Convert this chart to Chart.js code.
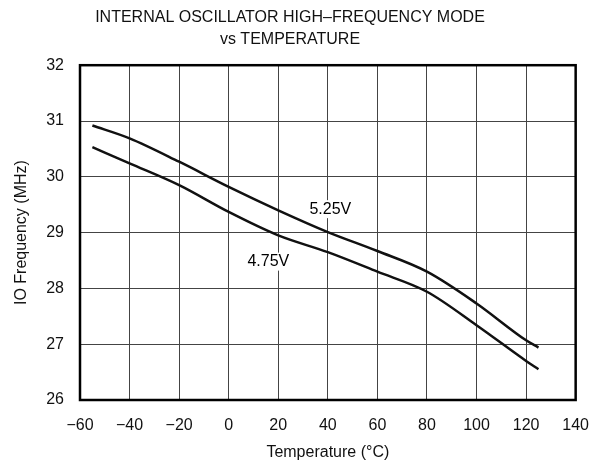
<!DOCTYPE html>
<html>
<head>
<meta charset="utf-8">
<script src="https://cdn.jsdelivr.net/npm/chart.js@4"></script>
<style>
  body { margin: 0; background: #fff; }
</style>
</head>
<body>
<canvas id="chart" width="605" height="467"></canvas>
<script>
// temperatures (°C)
var temps = [-55, -40, -20, 0, 20, 40, 60, 80, 100, 120, 125];
// 5.25 V curve, MHz
var freq525 = [30.92, 30.69, 30.27, 29.82, 29.40, 29.01, 28.67, 28.30, 27.73, 27.07, 26.94];
// 4.75 V curve, MHz
var freq475 = [30.53, 30.24, 29.85, 29.37, 28.95, 28.65, 28.30, 27.94, 27.34, 26.70, 26.55];

var curveLabels = [
  { text: "5.25V", x: 41, y: 29.42 },
  { text: "4.75V", x: 16, y: 28.48 }
];

var toPoints = function (xs, ys) {
  return xs.map(function (x, i) { return { x: x, y: ys[i] }; });
};

var fontFam = "'Liberation Sans', Arial, sans-serif";

// white-backed curve labels drawn under the curves, frame on top
var extras = {
  id: "extras",
  beforeDatasetsDraw: function (chart) {
    var ctx = chart.ctx;
    var xs = chart.scales.x, ys = chart.scales.y;
    ctx.save();
    ctx.font = "16px " + fontFam;
    ctx.textAlign = "center";
    ctx.textBaseline = "middle";
    curveLabels.forEach(function (l) {
      var px = xs.getPixelForValue(l.x), py = ys.getPixelForValue(l.y);
      var w = ctx.measureText(l.text).width;
      ctx.fillStyle = "#fff";
      ctx.fillRect(px - w / 2 - 2, py - 9, w + 4, 18);
      ctx.fillStyle = "#000";
      ctx.fillText(l.text, px, py);
    });
    ctx.restore();
  },
  afterDraw: function (chart) {
    var ctx = chart.ctx, a = chart.chartArea;
    ctx.save();
    ctx.strokeStyle = "#000";
    ctx.lineWidth = 2.5;
    ctx.strokeRect(a.left, a.top, a.right - a.left, a.bottom - a.top);
    ctx.restore();
  }
};

new Chart(document.getElementById("chart"), {
  type: "scatter",
  data: {
    datasets: [
      { label: "5.25V", data: toPoints(temps, freq525) },
      { label: "4.75V", data: toPoints(temps, freq475) }
    ]
  },
  options: {
    responsive: false,
    animation: false,
    showLine: true,
    elements: {
      line: { borderColor: "#111", borderWidth: 2.5, cubicInterpolationMode: "monotone" },
      point: { radius: 0 }
    },
    layout: { padding: { left: 0, right: 25, top: 0, bottom: 0 } },
    plugins: {
      legend: { display: false },
      tooltip: { enabled: false },
      title: {
        display: true,
        text: ["INTERNAL OSCILLATOR HIGH\u2013FREQUENCY MODE", "vs TEMPERATURE"],
        color: "#111",
        font: { family: fontFam, size: 16, weight: "normal", lineHeight: 1.35 },
        padding: { top: 7, bottom: 15 }
      }
    },
    scales: {
      x: {
        type: "linear",
        min: -60, max: 140,
        afterFit: function (s) { s.height = 67; },
        grid: { color: "#444", lineWidth: 1, drawTicks: false },
        border: { color: "#000", width: 2 },
        ticks: {
          stepSize: 20, color: "#111", padding: 16,
          font: { family: fontFam, size: 16 },
          callback: function (v) { return String(v).replace("-", "\u2212"); }
        },
        title: {
          display: true, text: "Temperature (\u00b0C)", color: "#111",
          font: { family: fontFam, size: 16 }, padding: { top: 4, bottom: 5 }
        }
      },
      y: {
        min: 26, max: 32,
        afterFit: function (s) { s.width = 80; },
        grid: { color: "#444", lineWidth: 1, drawTicks: false },
        border: { color: "#000", width: 2 },
        ticks: {
          stepSize: 1, color: "#111", padding: 16,
          font: { family: fontFam, size: 16 }
        },
        title: {
          display: true, text: "IO Frequency (MHz)", color: "#111",
          font: { family: fontFam, size: 16 }, padding: { top: 12, bottom: 4 }
        }
      }
    }
  },
  plugins: [extras]
});
</script>
</body>
</html>
